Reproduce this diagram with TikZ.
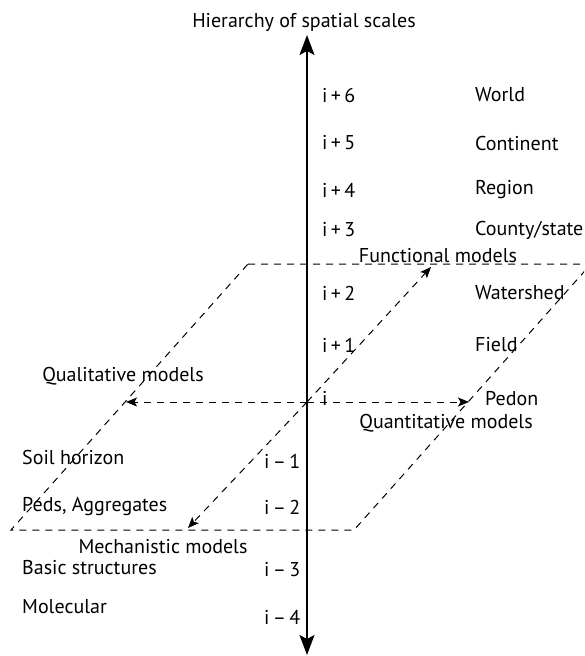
\documentclass[tikz,border=0pt]{standalone}
\usepackage{fontspec}
\setmainfont{PT Sans}
\usetikzlibrary{arrows.meta}
\begin{document}
\begin{tikzpicture}[x=1pt,y=-1pt,
  lbl/.style={font=\fontsize{20}{24}\selectfont, inner sep=0pt},
  lft/.style={lbl, anchor=west},
  axisline/.style={line width=1.5pt, -{Stealth[length=20pt,width=15pt,inset=4pt]}},
  dsh/.style={line width=1pt, dash pattern=on 7pt off 6pt},
  dsharrow/.style={dsh, -{Stealth[length=11pt,width=9pt,inset=2.5pt]}}]
\useasboundingbox (0,0) rectangle (584,656);
\clip (0,0) rectangle (584,656);
% axis
\coordinate (o) at (307,402);
\coordinate (axtop) at (307,35);
\coordinate (axbot) at (307,655);
\draw[axisline] (o) -- (axtop);
\draw[axisline] (o) -- (axbot);
\node[lbl] (title) at (304,22) {Hierarchy of spatial scales};
% parallelogram plane
\coordinate (p1) at (248,264);
\coordinate (p2) at (591,264);
\coordinate (p3) at (354,530);
\coordinate (p4) at (11,530);
\draw[dsh] (p1) -- (p2) -- (p3) -- (p4) -- cycle;
% model arrows
\coordinate (qlt) at (126,402);
\coordinate (qnt) at (469,402);
\coordinate (fun) at (431,267);
\coordinate (mec) at (188,528);
\draw[dsharrow] (o) -- (qlt);
\draw[dsharrow] (o) -- (qnt);
\draw[dsharrow] (o) -- (fun);
\draw[dsharrow] (o) -- (mec);
% model labels
\node[lbl] (lfun) at (438,256) {Functional models};
\node[lbl] (lqlt) at (123,376) {Qualitative models};
\node[lbl] (lqnt) at (446,423) {Quantitative models};
\node[lbl] (lmec) at (163,547) {Mechanistic models};
% scale indices
\node[lft] (ip6) at (322,95) {i\,+\,6};
\node[lft] (ip5) at (322,143) {i\,+\,5};
\node[lft] (ip4) at (322,190) {i\,+\,4};
\node[lft] (ip3) at (322,230) {i\,+\,3};
\node[lft] (ip2) at (322,293) {i\,+\,2};
\node[lft] (ip1) at (322,345) {i\,+\,1};
\node[lft] (i0) at (322,398) {i};
\node[lft] (im1) at (264,461) {i\,–\,1};
\node[lft] (im2) at (264,507) {i\,–\,2};
\node[lft] (im3) at (264,570) {i\,–\,3};
\node[lft] (im4) at (264,617) {i\,–\,4};
% scale names
\node[lft] (world) at (475,95) {World};
\node[lft] (cont) at (475,143) {Continent};
\node[lft] (region) at (475,190) {Region};
\node[lft] (county) at (475,230) {County/state};
\node[lft] (water) at (475,293) {Watershed};
\node[lft] (field) at (475,345) {Field};
\node[lft] (pedon) at (485,399) {Pedon};
\node[lft] (soil) at (22,457) {Soil horizon};
\node[lft] (peds) at (22,507) {Peds, Aggregates};
\node[lft] (basic) at (22,568) {Basic structures};
\node[lft] (mol) at (22,607) {Molecular};
\end{tikzpicture}
\end{document}
